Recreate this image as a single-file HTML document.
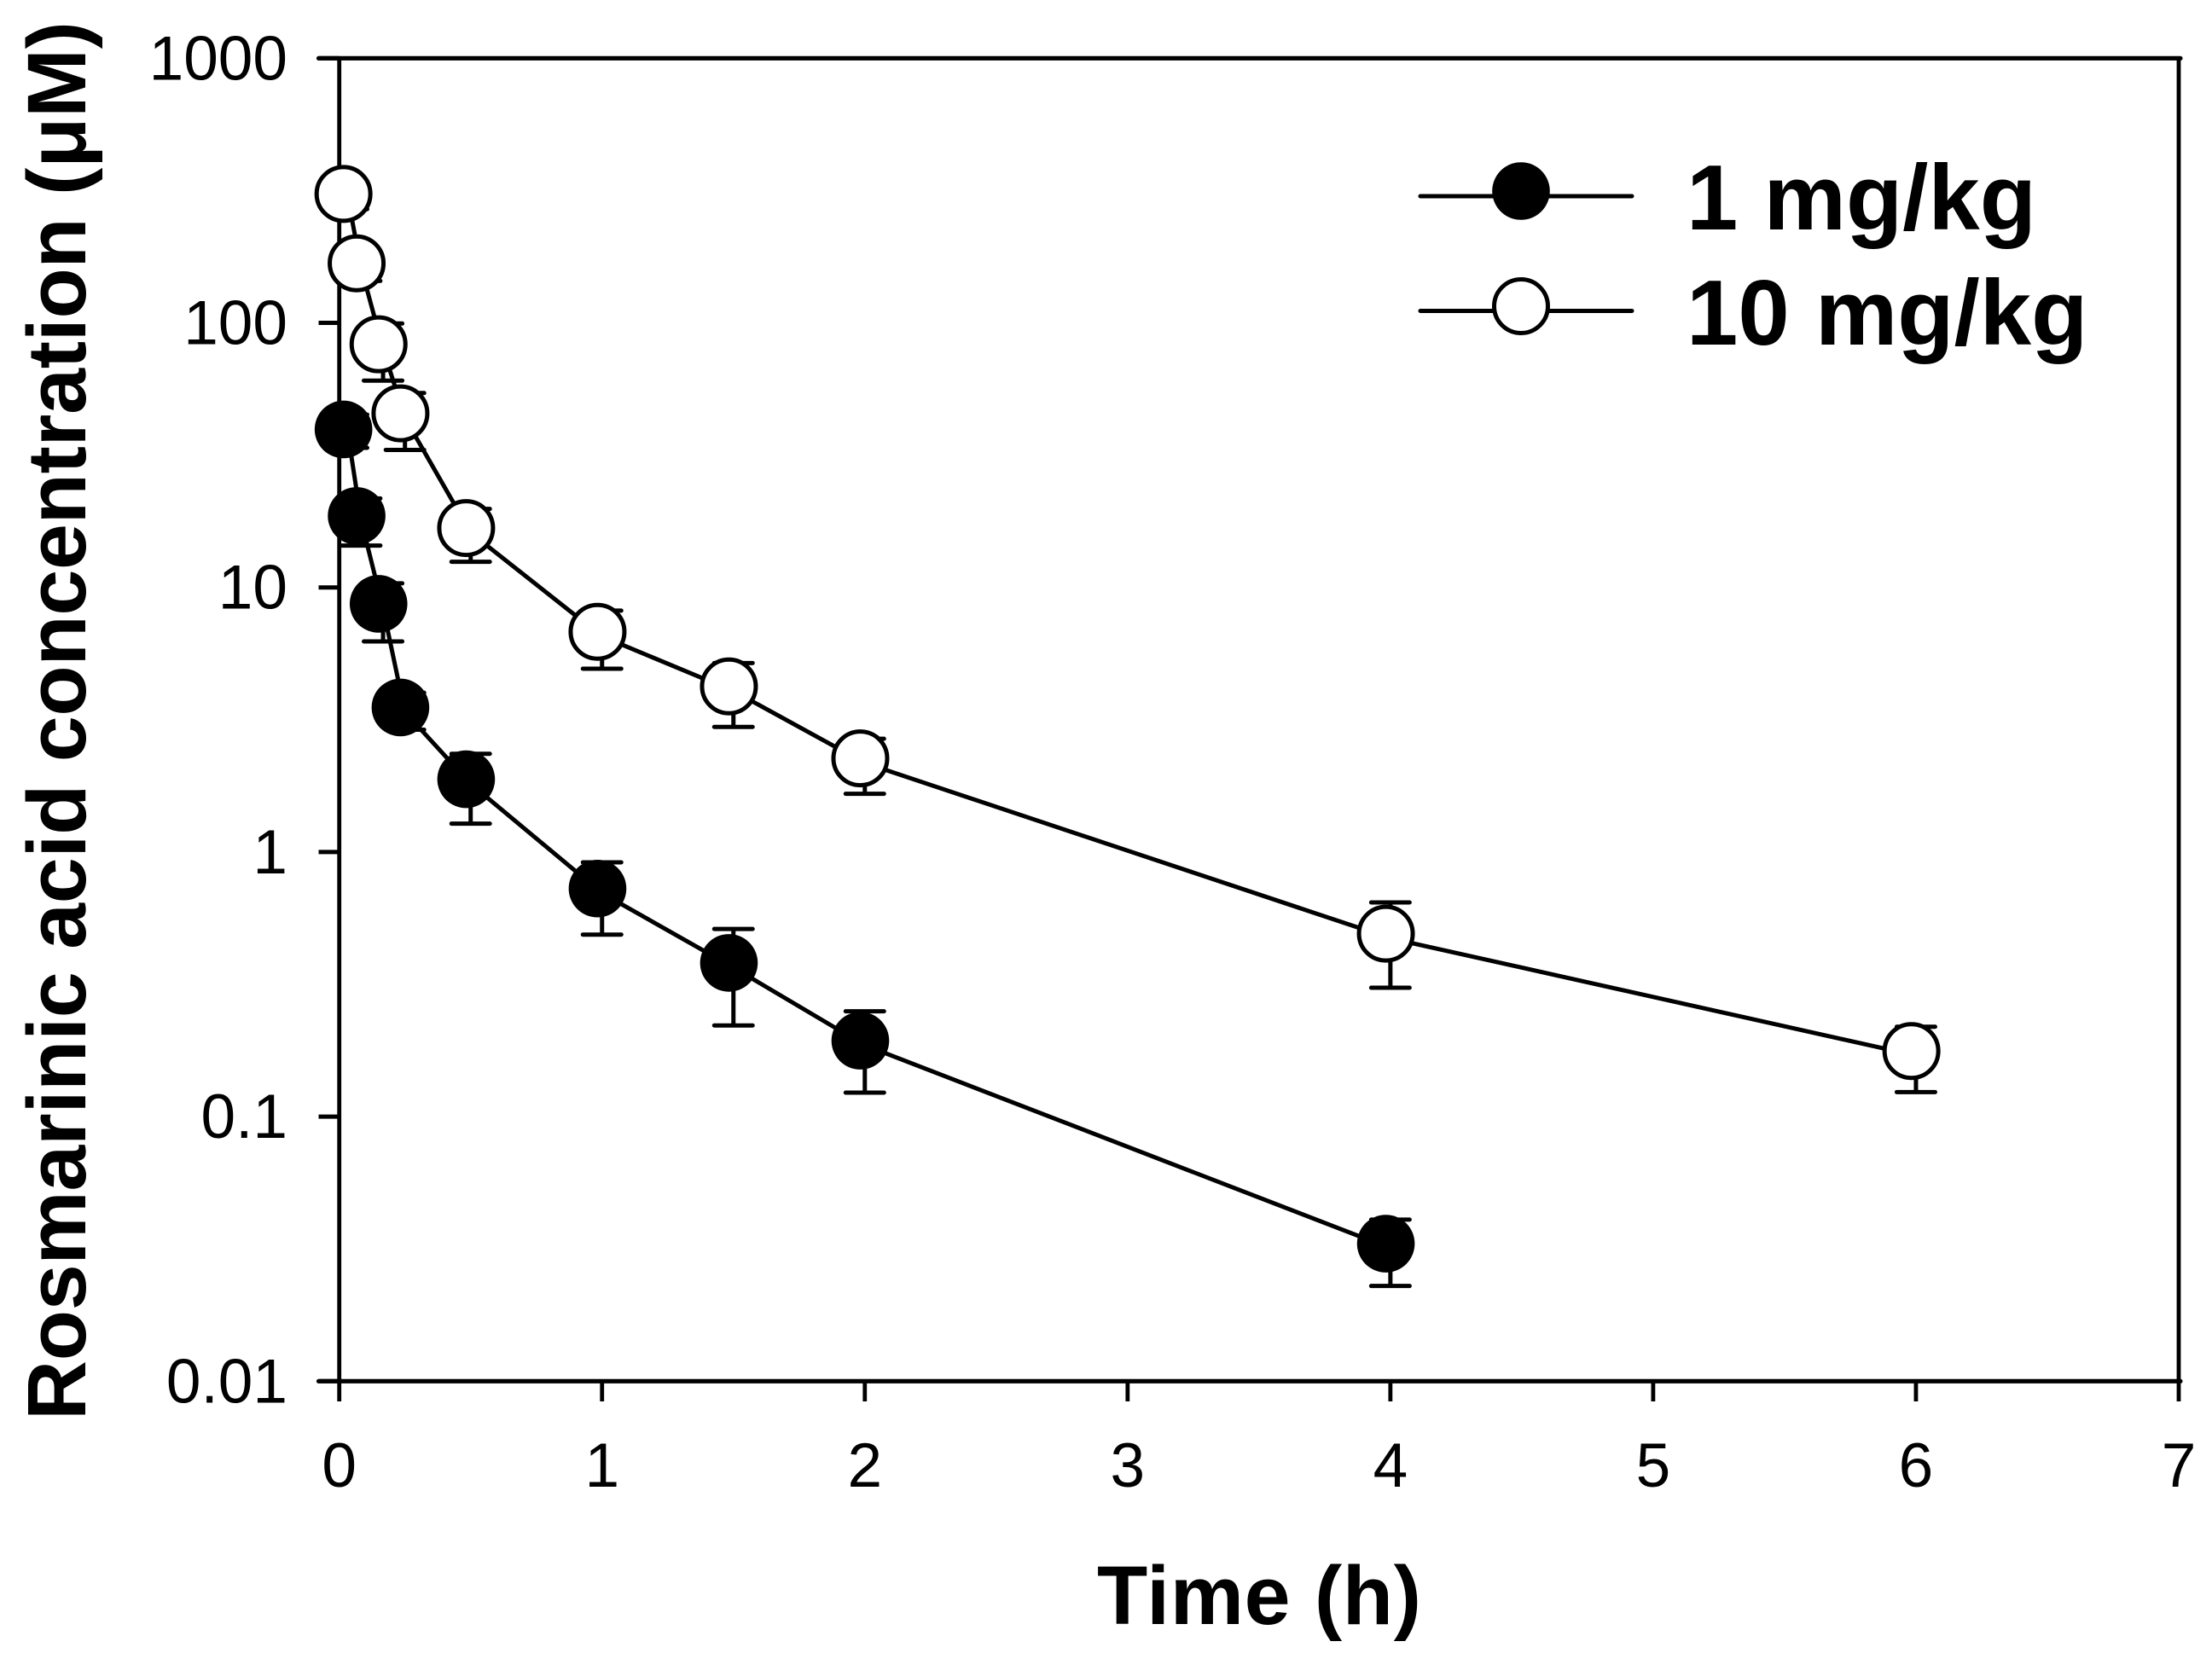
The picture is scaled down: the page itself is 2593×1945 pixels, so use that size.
<!DOCTYPE html>
<html lang="en">
<head>
<meta charset="utf-8">
<title>Rosmarinic acid concentration over time</title>
<style>
  html, body { margin: 0; padding: 0; background: #fff; }
  svg { display: block; }
  text { font-family: "Liberation Sans", Arial, sans-serif; fill: #000; }
  .tick-label { font-size: 73px; }
  .axis-title { font-size: 97px; font-weight: bold; }
  .legend-label { font-size: 108.5px; font-weight: bold; }
</style>
</head>
<body>
<svg id="chart" xmlns="http://www.w3.org/2000/svg" width="2593" height="1945" viewBox="0 0 2593 1945">
  <rect x="0" y="0" width="2593" height="1945" fill="#fff"/>
  <text class="axis-title" transform="translate(100,1665) rotate(-90)" textLength="1640" lengthAdjust="spacing">Rosmarinic acid concentration (μM)</text>
  <text class="axis-title" x="1286" y="1904" textLength="380" lengthAdjust="spacing">Time (h)</text>
  <g>
    <g>
      <line x1="1665" y1="230" x2="1913" y2="230" stroke="#000" stroke-width="5" stroke-linecap="round"/>
      <circle cx="1783" cy="224" r="33.8" fill="#000"/>
      <text class="legend-label" x="1977" y="269">1 mg/kg</text>
    </g>
    <g>
      <line x1="1665" y1="364.5" x2="1913" y2="364.5" stroke="#000" stroke-width="5" stroke-linecap="round"/>
      <circle cx="1783" cy="359" r="31.5" fill="#fff" stroke="#000" stroke-width="5"/>
      <text class="legend-label" x="1977" y="404">10 mg/kg</text>
    </g>
  </g>
</svg>
<script>
const times = [0.0333, 0.0833, 0.1667, 0.25, 0.5, 1, 1.5, 2, 4, 6];
const mean1 = [38.0, 17.9, 8.33, 3.38, 1.81, 0.699, 0.366, 0.186, 0.0318];
const upper1 = [45, 21.7, 10.36, 4.0, 2.35, 0.914, 0.512, 0.250, 0.0408];
const lower1 = [33.7, 14.4, 6.25, 2.9, 1.28, 0.4875, 0.221, 0.1232, 0.0229];
const mean10 = [295, 161.3, 79.7, 43.7, 16.1, 6.53, 4.06, 2.17, 0.472, 0.170];
const upper10 = [340, 180, 99.4, 54.3, 19.8, 8.17, 5.18, 2.68, 0.645, 0.2186];
const lower10 = [269, 144, 60.5, 33.1, 12.5, 4.93, 2.97, 1.66, 0.307, 0.1238];
const xTicks = [0, 1, 2, 3, 4, 5, 6, 7];
const yTicks = [0.01, 0.1, 1, 10, 100, 1000];
const yTickLabels = ['0.01', '0.1', '1', '10', '100', '1000'];

const NS = 'http://www.w3.org/2000/svg';
const svg = document.getElementById('chart');
const plotLeft = 397.7, plotRight = 2554, plotTop = 68.3, plotBottom = 1619.3;
function xScale(t) { return plotLeft + (t / 7) * (plotRight - plotLeft); }
function yScale(v) { return plotBottom - (Math.log10(v) + 2) / 5 * (plotBottom - plotTop); }
function make(tag, attrs, parent) {
  const el = document.createElementNS(NS, tag);
  for (const k in attrs) el.setAttribute(k, attrs[k]);
  parent.appendChild(el);
  return el;
}
const black = { stroke: '#000', 'stroke-linecap': 'round' };

/* axes */
const axes = make('g', {}, svg);


const frame = make('path', {
  d: 'M' + plotLeft + ' ' + plotTop + 'V' + plotBottom + 'M' + plotRight + ' ' + plotTop + 'V' + plotBottom,
  stroke: '#000', 'stroke-width': 4.8, fill: 'none'
}, axes);


const topLine = make('line', Object.assign({ x1: 373.5, y1: plotTop, x2: plotRight + 2, y2: plotTop, 'stroke-width': 5.2 }, black), axes);


const bottomLine = make('line', Object.assign({ x1: 373.5, y1: plotBottom, x2: plotRight + 2, y2: plotBottom, 'stroke-width': 5.2 }, black), axes);



yTicks.forEach(function (v, i) {
  const y = yScale(v);
  const tick = make('line', { x1: 373.5, y1: y, x2: plotLeft, y2: y, stroke: '#000', 'stroke-width': 5 }, axes);
  
  
  const label = make('text', { x: 337, y: y + 25, 'text-anchor': 'end', class: 'tick-label' }, axes);
  
  
  label.textContent = yTickLabels[i];
});
xTicks.forEach(function (t) {
  const x = xScale(t);
  const tick = make('line', { x1: x, y1: plotBottom, x2: x, y2: 1643, stroke: '#000', 'stroke-width': 4.8 }, axes);
  
  
  const label = make('text', { x: x, y: 1743, 'text-anchor': 'middle', class: 'tick-label' }, axes);
  
  
  label.textContent = String(t);
});

/* series */
const markerDx = -5.3, markerDy = -5.4, capHalf = 22.5;
function drawSeries(name, values, uppers, lowers, filled) {
  const g = make('g', {}, svg);
  
  

  const pts = values.map(function (v, i) { return xScale(times[i]) + ',' + yScale(v); }).join(' ');
  const line = make('polyline', { points: pts, fill: 'none', stroke: '#000', 'stroke-width': 5, 'stroke-linejoin': 'round' }, g);
  
  

  values.forEach(function (v, i) {
    const x = xScale(times[i]);
    const yUp = yScale(uppers[i]), yLo = yScale(lowers[i]);
    const bar = make('path', {
      d: 'M' + x + ' ' + yUp + 'V' + yLo,
      stroke: '#000', 'stroke-width': 5, fill: 'none'
    }, g);
    
    
    const capTop = make('line', Object.assign({ x1: x - capHalf, y1: yUp, x2: x + capHalf, y2: yUp, 'stroke-width': 5 }, black), g);
    
    
    const capBottom = make('line', Object.assign({ x1: x - capHalf, y1: yLo, x2: x + capHalf, y2: yLo, 'stroke-width': 5 }, black), g);
    
    
  });

  values.forEach(function (v, i) {
    const attrs = { cx: xScale(times[i]) + markerDx, cy: yScale(v) + markerDy };
    if (filled) {
      attrs.r = 33.8;
      attrs.fill = '#000';
    } else {
      attrs.r = 31.5;
      attrs.fill = '#fff';
      attrs.stroke = '#000';
      attrs['stroke-width'] = 5;
    }
    const marker = make('circle', attrs, g);
    
    
  });
}
drawSeries('1-mg-kg', mean1, upper1, lower1, true);
drawSeries('10-mg-kg', mean10, upper10, lower10, false);
</script>
</body>
</html>
